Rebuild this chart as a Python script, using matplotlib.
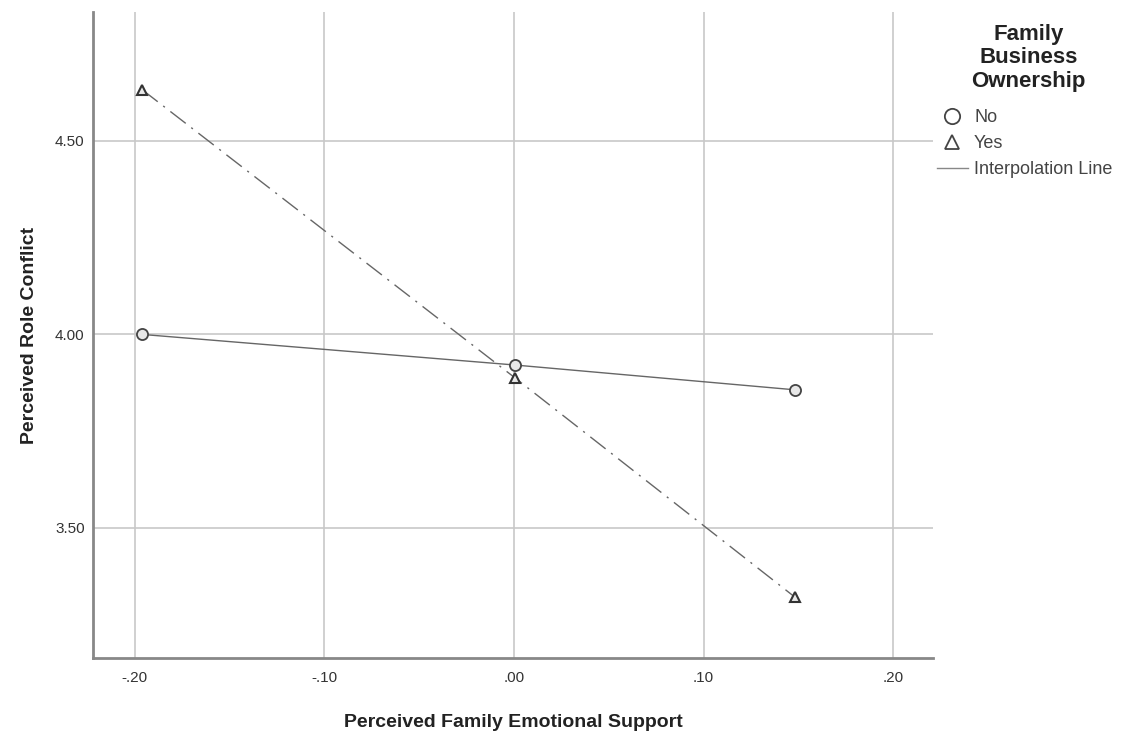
import matplotlib.pyplot as plt
from matplotlib.lines import Line2D
from matplotlib.ticker import FuncFormatter

plt.rcParams['font.family'] = ['Liberation Sans', 'DejaVu Sans']

# Datos
support = [-0.196, 0.0005, 0.148]
conflict_no = [4.00, 3.921, 3.857]
conflict_yes = [4.632, 3.888, 3.322]
x_ticks = [-0.20, -0.10, 0.00, 0.10, 0.20]
y_ticks = [3.50, 4.00, 4.50]

fig = plt.figure(figsize=(11.25, 7.33), dpi=100)
ax = fig.add_axes([0.0827, 0.1023, 0.7466, 0.8813])

line_col = '#666666'
ax.plot(support, conflict_no, color=line_col, lw=1.0, ls='-',
        marker='o', ms=8, mfc='#e8e8e8', mec='#444444', mew=1.3, zorder=3)
ax.plot(support, conflict_yes, color=line_col, lw=1.0, ls=(0, (14, 5, 1.5, 5)),
        marker='^', ms=7, mfc='#e8e8e8', mec='#333333', mew=1.5, zorder=3)

ax.set_xlim(-0.222, 0.221)
ax.set_ylim(3.164, 4.833)
ax.set_xticks(x_ticks)
ax.set_yticks(y_ticks)

def fmt(v, pos):
    s = f"{v:.2f}"
    if abs(v) < 1:
        s = s.replace("0.", ".")
    return s

ax.xaxis.set_major_formatter(FuncFormatter(fmt))
ax.yaxis.set_major_formatter(FuncFormatter(lambda v, p: f"{v:.2f}"))
ax.grid(True, color='#c8c8c8', lw=1.2)
ax.set_axisbelow(True)
ax.tick_params(length=0, labelsize=11, colors='#333333')
ax.tick_params(axis='x', pad=9)
ax.tick_params(axis='y', pad=6)

for s in ['top', 'right']:
    ax.spines[s].set_visible(False)
for s in ['left', 'bottom']:
    ax.spines[s].set_color('#888888')
    ax.spines[s].set_linewidth(2)

ax.set_xlabel("Perceived Family Emotional Support", fontsize=14, fontweight='bold',
              color='#222222', labelpad=21)
ax.set_ylabel("Perceived Role Conflict", fontsize=14, fontweight='bold',
              color='#222222', labelpad=12)

# titulo de la leyenda aparte
fig.text(0.9145, 1 - 24 / 733, "Family\nBusiness\nOwnership", ha='center', va='top',
         multialignment='center', linespacing=1.15, fontsize=16,
         fontweight='bold', color='#222222')

handles = [
    Line2D([], [], ls='none', marker='o', ms=11, mfc='white', mec='#444444', mew=1.3),
    Line2D([], [], ls='none', marker='^', ms=10, mfc='white', mec='#444444', mew=1.3),
    Line2D([], [], color='#888888', lw=1.0),
]
leg = fig.legend(handles, ["No", "Yes", "Interpolation Line"],
                 loc='upper left', bbox_to_anchor=(0.833, 1 - 109 / 733),
                 frameon=False, fontsize=13, handlelength=1.7,
                 handletextpad=0.35, labelspacing=0.5,
                 borderpad=0, borderaxespad=0)
for t in leg.get_texts():
    t.set_color('#444444')

fig.savefig("out.png", dpi=100)
